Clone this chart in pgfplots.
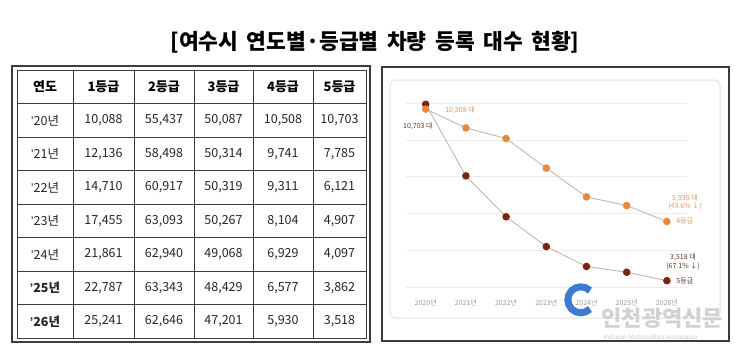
\documentclass[border=0pt]{standalone}
\usepackage{fontspec}
\setmainfont{Noto Sans CJK KR}
\newfontfamily\lat{Liberation Sans}
\usepackage{pgfplots}
\pgfplotsset{compat=1.18}
\definecolor{c4}{RGB}{233,135,60}
\definecolor{c4t}{RGB}{226,150,95}
\definecolor{c5}{RGB}{120,38,20}
\definecolor{c5t}{RGB}{105,55,40}
\definecolor{lineg}{RGB}{200,182,172}
\definecolor{gridc}{RGB}{236,236,236}
\definecolor{frame}{RGB}{60,60,60}
\newcommand{\ap}{{\lat ’}}
\newcommand{\trow}[7]{%
  \node at (45,#1) {#2};
  \node at (103.5,#1) {#3};
  \node at (164,#1) {#4};
  \node at (223.5,#1) {#5};
  \node at (283,#1) {#6};
  \node at (339.5,#1) {#7};}
\begin{document}
\begin{tikzpicture}[x=1pt,y=-1pt]
\useasboundingbox (0,0) rectangle (750,356);
\fill[white] (0,0) rectangle (750,356);
% title
\node[font=\fontsize{21.5}{21.5}\selectfont\bfseries] at (375,42) {[여수시 \,연도별·등급별 \,차량 \,등록 \,대수 \,현황]};
% table frame
\draw[frame, line width=1.2pt] (12,66) rectangle (370,342);
\draw[frame, line width=1pt] (17,70) rectangle (366,338);
\foreach \xx in {73,134,194,253,313} \draw[frame, line width=0.8pt] (\xx,70) -- (\xx,338);
\foreach \yy in {103.5,137,170.5,204,237.5,271,304.5} \draw[frame, line width=0.8pt] (17,\yy) -- (366,\yy);
\begin{scope}[every node/.style={font=\fontsize{13}{13}\selectfont\bfseries}]
\trow{86.75}{연도}{1등급}{2등급}{3등급}{4등급}{5등급}
\end{scope}
\begin{scope}[every node/.style={font=\fontsize{12.5}{12.5}\selectfont, text=black!85}]
\trow{120.25}{\ap20년}{10,088}{55,437}{50,087}{10,508}{10,703}
\trow{153.75}{\ap21년}{12,136}{58,498}{50,314}{9,741}{7,785}
\trow{187.25}{\ap22년}{14,710}{60,917}{50,319}{9,311}{6,121}
\trow{220.75}{\ap23년}{17,455}{63,093}{50,267}{8,104}{4,907}
\trow{254.25}{\ap24년}{21,861}{62,940}{49,068}{6,929}{4,097}
\node[font=\fontsize{12.5}{12.5}\selectfont\bfseries] at (45,287.75) {\ap25년};
\node[font=\fontsize{12.5}{12.5}\selectfont\bfseries] at (45,321.25) {\ap26년};
\node at (103.5,287.75) {22,787}; \node at (164,287.75) {63,343}; \node at (223.5,287.75) {48,429}; \node at (283,287.75) {6,577}; \node at (339.5,287.75) {3,862};
\node at (103.5,321.25) {25,241}; \node at (164,321.25) {62,646}; \node at (223.5,321.25) {47,201}; \node at (283,321.25) {5,930}; \node at (339.5,321.25) {3,518};
\end{scope}
% chart frame
\draw[frame, line width=1.2pt] (382,67) rectangle (729,341);
\draw[gray!15, line width=1.5pt, rounded corners=6pt] (390,80) rectangle (720,318);
\begin{axis}[at={(405.6pt,-295pt)}, anchor=south west, scale only axis,
  width=281.4pt, height=205pt, xmin=-0.5, xmax=6.5, ymin=2935, ymax=11285,
  clip=false, axis line style={draw=none}, tick style={draw=none},
  scaled y ticks=false,
  ytick={3250,4750,6250,7750,9250,10750}, yticklabels={},
  ymajorgrids, major grid style={gridc, line width=0.8pt},
  xtick={0,...,6}, xticklabels={2020년,2021년,2022년,2023년,2024년,2025년,2026년},
  xticklabel style={font=\fontsize{7}{7}\selectfont, text=gray!75, yshift=-1pt}]
\addplot[lineg, line width=0.9pt, mark=*, mark size=3.3pt, mark options={fill=c5, draw=c5}]
  coordinates {(0,10703)(1,7785)(2,6121)(3,4907)(4,4097)(5,3862)(6,3518)};
\addplot[lineg, line width=0.9pt, mark=*, mark size=3.3pt, mark options={fill=c4, draw=c4}]
  coordinates {(0,10508)(1,9741)(2,9311)(3,8104)(4,6929)(5,6577)(6,5930)};
\node[anchor=west, text=c4t, font=\fontsize{7}{7}\selectfont] at (axis cs:0.40,10471) {10,508 대};
\node[anchor=east, text=c5t, font=\fontsize{7}{7}\selectfont] at (axis cs:0.26,9819) {10,703 대};
\node[align=center, text=c4t, font=\fontsize{7}{8.5}\selectfont] at (axis cs:6.45,6703) {5,930 대\\(43.6\% ↓)};
\node[anchor=west, text=c4t, font=\fontsize{7}{7}\selectfont] at (axis cs:6.15,5930) {4등급};
\node[align=center, text=c5t, font=\fontsize{7}{8.5}\selectfont] at (axis cs:6.40,4279) {3,518 대\\(67.1\% ↓)};
\node[anchor=west, text=c5t, font=\fontsize{7}{7}\selectfont] at (axis cs:6.15,3518) {5등급};
\end{axis}
% watermark
\draw[color={rgb,255:red,40;green,110;blue,200}, line width=7pt, opacity=0.9] (590,309) arc (45:315:13);
\node[text=gray!35, font=\fontsize{22}{22}\selectfont\bfseries, anchor=west] at (598,318) {인천광역신문};
\node[text=gray!40, font=\fontsize{6.5}{6.5}\selectfont, anchor=west] at (600,338) {\lat Incheon Metropolitan newspaper};
\end{tikzpicture}
\end{document}
